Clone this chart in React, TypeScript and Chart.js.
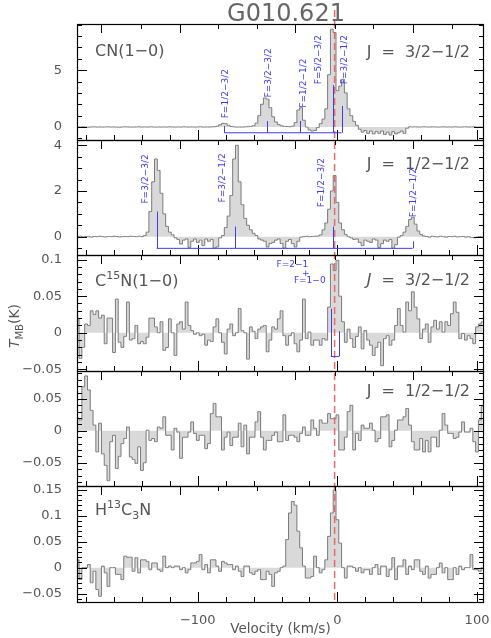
import React, { useEffect, useRef } from 'react';
import { Chart, registerables } from 'chart.js';

Chart.register(...registerables);

// ---------------- data ----------------
const TITLE = 'G010.621';
const V_START = -186; // km/s, first channel centre
const V_STEP = 2; // km/s channel width
const X_MIN = -186.5;
const X_MAX = 105;
const X_TICKS = [-100, 0, 100];
const X_MINOR = [-180, -160, -140, -120, -100, -80, -60, -40, -20, 0, 20, 40, 60, 80, 100];
const TOP_TICK_VEL = [-169.6, -140.4, -112.6, -85.3, -57.9, -30.6, -1.8, 25.8, 54.5, 82.2];
const TOP_TICK_LONG = [1, 0, 1, 0, 0, 1, 0, 0, 1, 0];
const V_SYS = -2;

// CN(1-0) J=3/2-1/2
const CN_32 = [
  0.01, 0.0, 0.02, 0.0, -0.01, 0.01, 0.02, 0.0, 0.01, 0.0,
  0.01, 0.02, 0.0, 0.01, 0.0, -0.01, 0.01, 0.02, 0.01, 0.0,
  0.0, 0.01, 0.02, 0.0, 0.01, 0.0, 0.02, 0.01, 0.0, 0.01,
  0.0, 0.01, 0.0, 0.02, 0.01, 0.0, 0.01, 0.0, 0.02, 0.01,
  0.0, 0.01, 0.0, 0.01, 0.02, 0.0, 0.01, 0.0, 0.02, 0.03,
  0.08, 0.2, 0.32, 0.3, 0.15, 0.05, 0.02, 0.0, 0.01, 0.0,
  0.02, 0.03, 0.06, 0.12, 0.35, 1.0, 2.0, 2.55, 2.45, 1.7,
  0.9, 0.45, 0.22, 0.12, 0.06, 0.05, 0.03, 0.08, 0.4, 1.5,
  1.7, 0.6, 0.0, -0.25, -0.35, -0.3, -0.05, 0.3, 0.7, 1.6,
  4.6, 8.6, 8.3, 3.2, 3.6, 4.2, 3.0, 1.6, 1.0, 0.5,
  0.15, -0.2, -0.45, -0.3, -0.55, -0.35, -0.6, -0.4, -0.55, -0.35,
  -0.65, -0.45, -0.7, -0.4, -0.6, -0.5, -0.35, -0.55, -0.1, 0.02,
  0.01, 0.02, 0.0, 0.01, 0.02, 0.01, 0.0, 0.02, 0.01, 0.0,
  0.01, 0.02, 0.0, 0.01, 0.0, 0.02, 0.01, 0.0, 0.01, 0.02,
  0.0, 0.01, 0.02, 0.0, 0.01, 0.0,
];

// CN(1-0) J=1/2-1/2
const CN_12 = [
  0.0, 0.02, -0.01, 0.01, 0.0, -0.02, 0.01, 0.0, 0.02, 0.0,
  -0.01, 0.01, 0.0, 0.02, 0.01, -0.01, 0.0, 0.01, 0.0, 0.02,
  0.01, 0.0, 0.02, 0.0, 0.05, 0.2, 1.1, 2.4, 3.4, 2.9,
  1.9, 1.0, 0.45, 0.2, 0.08, -0.05, -0.12, -0.32, -0.15, -0.1,
  -0.47, -0.2, -0.1, -0.25, -0.15, -0.39, -0.1, -0.2, -0.12, -0.5,
  -0.45, -0.05, 0.05, 0.4, 0.9, 1.8, 3.4, 4.0, 2.4, 1.4,
  0.8, 0.5, 0.3, 0.15, 0.05, -0.1, -0.15, -0.2, -0.45, -0.3,
  -0.25, -0.15, -0.1, -0.3, -0.5, -0.2, -0.12, -0.3, -0.45, -0.2,
  -0.02, 0.0, 0.02, 0.0, 0.01, 0.02, 0.03, 0.08, 0.3, 0.6,
  1.2, 2.0, 2.68, 1.5, 0.6, 0.3, 0.1, 0.0, -0.05, -0.12,
  -0.1, -0.25, -0.39, -0.15, -0.2, -0.25, -0.1, -0.15, -0.47, -0.3,
  -0.15, -0.2, -0.12, -0.5, -0.35, -0.02, 0.05, 0.2, 0.45, 0.75,
  0.85, 0.55, 0.25, 0.1, 0.03, 0.01, -0.02, 0.02, 0.0, -0.01,
  0.02, 0.0, -0.02, 0.01, 0.0, 0.02, -0.01, 0.0, 0.01, -0.02,
  0.0, -0.03, -0.05, -0.02, 0.01, 0.0,
];

// C15N(1-0) J=3/2-1/2
const C15N_32 = [
  0.02, -0.035, -0.02, 0.012, 0.01, 0.03, 0.025, 0.03, 0.02, 0.024,
  -0.015, 0.02, 0.02, -0.027, 0.046, -0.013, -0.02, -0.005, 0.042, -0.01,
  -0.008, 0.01, -0.015, -0.012, -0.015, -0.006, 0.02, 0.02, 0.008, 0.0,
  0.015, -0.024, -0.02, 0.019, 0.0, -0.031, 0.012, 0.015, 0.005, 0.042,
  0.01, 0.003, -0.002, 0.0, -0.004, -0.002, -0.017, -0.01, -0.012, 0.008,
  0.019, 0.0, -0.013, -0.029, 0.005, 0.012, -0.004, 0.0, 0.033, 0.003,
  0.0, -0.036, 0.008, 0.002, -0.008, 0.005, 0.008, 0.01, -0.026, -0.01,
  0.008, 0.005, 0.019, 0.03, -0.004, -0.017, -0.004, 0.0, -0.015, -0.026,
  -0.01, 0.046, -0.008, 0.001, -0.017, -0.01, -0.01, -0.017, -0.008, -0.01,
  0.035, 0.094, 0.085, 0.099, 0.05, 0.015, -0.013, 0.005, -0.008, -0.02,
  -0.005, 0.008, -0.022, 0.003, -0.01, -0.017, -0.031, -0.02, -0.013, -0.045,
  -0.008, -0.004, -0.017, -0.01, 0.01, 0.033, 0.01, 0.001, 0.042, 0.03,
  0.056, 0.035, 0.019, -0.008, 0.005, 0.012, -0.013, 0.008, 0.017, 0.005,
  0.015, 0.001, 0.015, 0.01, 0.026, 0.042, 0.028, -0.008, -0.001, -0.01,
  -0.004, -0.008, -0.015, 0.008, 0.012, 0.015,
];

// C15N(1-0) J=1/2-1/2
const C15N_12 = [
  0.02, 0.017, 0.069, 0.086, 0.064, 0.032, 0.009, -0.033, 0.012, -0.036,
  -0.054, -0.078, -0.017, -0.007, -0.059, -0.04, -0.02, -0.012, 0.006, -0.041,
  -0.045, -0.051, -0.025, -0.062, -0.05, 0.001, -0.015, -0.012, -0.017, 0.006,
  0.004, 0.022, -0.007, -0.007, -0.03, 0.004, -0.002, -0.043, -0.01, -0.01,
  -0.002, 0.014, -0.004, -0.015, -0.007, -0.007, -0.028, -0.02, 0.027, 0.043,
  0.022, 0.022, -0.03, -0.01, -0.002, -0.023, -0.01, -0.01, 0.012, -0.025,
  0.009, -0.036, -0.01, -0.01, 0.014, 0.03, -0.01, -0.03, -0.015, -0.015,
  -0.007, -0.002, -0.017, -0.017, 0.025, -0.015, -0.007, -0.007, -0.01, -0.017,
  -0.004, 0.006, -0.007, -0.007, 0.017, 0.004, -0.007, 0.017, 0.012, 0.012,
  0.027, 0.019, 0.019, 0.025, -0.03, -0.03, -0.01, 0.03, 0.04, -0.03,
  -0.004, -0.015, 0.009, 0.004, 0.004, 0.012, 0.001, -0.017, -0.012, 0.022,
  0.022, 0.025, -0.025, -0.015, 0.001, 0.017, 0.017, 0.022, 0.035, 0.009,
  -0.017, -0.03, -0.03, -0.012, -0.033, -0.015, -0.033, -0.01, -0.01, -0.025,
  0.001, 0.027, 0.009, -0.004, -0.004, -0.012, -0.01, -0.002, 0.014, -0.002,
  -0.002, 0.004, -0.017, -0.033, 0.017, 0.038,
];

// H13C3N
const H13C3N = [
  0.015, -0.023, 0.0, 0.0, 0.006, -0.029, -0.007, -0.042, -0.055, 0.003,
  -0.01, -0.036, 0.0, 0.0, -0.013, -0.013, -0.023, 0.022, 0.02, 0.02,
  -0.007, 0.019, -0.01, 0.015, 0.015, 0.012, -0.004, 0.009, 0.009, -0.004,
  -0.007, 0.022, 0.0, 0.003, 0.0, 0.003, 0.003, -0.004, 0.0, -0.01,
  -0.004, 0.009, 0.009, 0.012, 0.025, -0.004, 0.006, -0.01, 0.015, 0.015,
  0.003, -0.007, 0.012, 0.009, 0.006, 0.006, -0.004, 0.003, -0.007, -0.017,
  0.003, 0.003, -0.01, -0.013, -0.007, -0.004, -0.023, -0.023, -0.007, -0.013,
  -0.036, -0.01, -0.007, 0.0, 0.003, 0.054, 0.105, 0.127, 0.12, 0.07,
  0.038, 0.003, -0.02, -0.02, -0.017, 0.022, 0.0, -0.01, -0.004, 0.015,
  0.06, 0.105, 0.149, 0.092, 0.047, 0.0, -0.02, 0.003, 0.003, 0.0,
  -0.007, 0.0, -0.01, -0.004, -0.004, -0.013, 0.0, 0.006, -0.013, 0.003,
  0.003, -0.017, -0.004, 0.019, -0.023, 0.003, 0.003, 0.015, -0.013, 0.003,
  -0.004, 0.015, 0.015, -0.007, -0.013, 0.003, -0.02, -0.013, -0.013, 0.0,
  0.009, -0.01, 0.0, -0.023, -0.023, 0.0, -0.013, 0.003, -0.004, 0.0,
  0.0, 0.025, -0.004, -0.004, -0.007, 0.0,
];

// y tick labels per panel
const Y1_TICKS = [0, 5];
const Y2_TICKS = [0, 2, 4];
const Y3_TICKS = [-0.05, 0, 0.05, 0.1];
const Y4_TICKS = [-0.05, 0, 0.05];
const Y5_TICKS = [-0.05, 0, 0.05, 0.1, 0.15];

// hyperfine markers
const CN32_HF_VEL = [-80.9, -50.2, -26.5, -3.0, 3.0];
const CN32_HF_TOP = [0.09, 0.53, 0.53, 3.68, 1.85];
const CN32_HF_LABELS = ['F=1/2−3/2', 'F=3/2−3/2', 'F=1/2−1/2', 'F=5/2−3/2', 'F=3/2−1/2'];
const CN32_HF_LABEL_VEL = [-79.7, -49.3, -24.0, -13.3, 5.4];
const CN32_HF_LABEL_Y = [0.77, 2.6, 1.7, 3.77, 3.77];
const CN32_HF_BASE = -0.5;

const CN12_HF_VEL = [-129.4, -73.0, -3.0, 53.8];
const CN12_HF_TOP = [1.1, 0.44, 0.44, -0.2];
const CN12_HF_LABELS = ['F=3/2−3/2', 'F=3/2−1/2', 'F=1/2−3/2', 'F=1/2−1/2'];
const CN12_HF_LABEL_VEL = [-137.4, -82.4, -11.4, 54.5];
const CN12_HF_LABEL_Y = [1.45, 1.5, 1.29, 0.85];
const CN12_HF_BASE = -0.51;

const C15N_HF_VEL = [-4.7, 1.1];
const C15N_HF_TOP = [0.0328, 0.002];
const C15N_HF_BASE = -0.0324;
const C15N_HF_TEXT = ['F=2−1', '+', 'F=1−0'];
const C15N_HF_TEXT_VEL = [-32.2, -22.7, -19.8];
const C15N_HF_TEXT_Y = [0.0935, 0.081, 0.0715];

// ---------------- styling / layout ----------------
const FONT = '"DejaVu Sans", "Liberation Sans", sans-serif';
const TEXT_GREY = '#555';
const BLUE = '#3c3cff';

type Part = { t: string; sup?: boolean; sub?: boolean; italic?: boolean };

const PANELS = [
  { id: 'y1', values: CN_32, min: -1.1, max: 9.05, ticks: Y1_TICKS, minor: 1,
    left: [{ t: 'CN(1−0)' }] as Part[], leftDy: 32,
    right: [{ t: 'J  =  3/2−1/2' }] as Part[], rightDy: 33 },
  { id: 'y2', values: CN_12, min: -0.81, max: 4.25, ticks: Y2_TICKS, minor: 0.5,
    left: [] as Part[], leftDy: 0,
    right: [{ t: 'J  =  1/2−1/2' }] as Part[], rightDy: 29 },
  { id: 'y3', values: C15N_32, min: -0.052, max: 0.106, ticks: Y3_TICKS, minor: 0.01,
    left: [{ t: 'C' }, { t: '15', sup: true }, { t: 'N(1−0)' }] as Part[], leftDy: 31,
    right: [{ t: 'J', italic: true }, { t: '  =  3/2−1/2' }] as Part[], rightDy: 30 },
  { id: 'y4', values: C15N_12, min: -0.087, max: 0.094, ticks: Y4_TICKS, minor: 0.01,
    left: [] as Part[], leftDy: 0,
    right: [{ t: 'J  =  1/2−1/2' }] as Part[], rightDy: 25 },
  { id: 'y5', values: H13C3N, min: -0.066, max: 0.156, ticks: Y5_TICKS, minor: 0.01,
    left: [{ t: 'H' }, { t: '13', sup: true }, { t: 'C' }, { t: '3', sub: true }, { t: 'N' }] as Part[], leftDy: 29,
    right: [] as Part[], rightDy: 0 },
];

const fmt = (v: number) => {
  const s = String(parseFloat(Number(v).toFixed(3)));
  return s.replace('-', '−');
};

function partFont(p: Part, size: number) {
  const sz = p.sup || p.sub ? Math.round(size * 0.68) : size;
  return `${p.italic ? 'italic ' : ''}${sz}px ${FONT}`;
}

function drawRich(ctx: CanvasRenderingContext2D, parts: Part[], x: number, y: number, align: 'left' | 'right', size: number) {
  let w = 0;
  parts.forEach((p) => { ctx.font = partFont(p, size); w += ctx.measureText(p.t).width; });
  let cx = align === 'right' ? x - w : x;
  ctx.textAlign = 'left';
  ctx.textBaseline = 'alphabetic';
  parts.forEach((p) => {
    ctx.font = partFont(p, size);
    const dy = p.sup ? -size * 0.45 : p.sub ? size * 0.28 : 0;
    ctx.fillText(p.t, cx, y + dy);
    cx += ctx.measureText(p.t).width;
  });
}

const decorPlugin = {
  id: 'decor',
  afterDatasetsDraw(chart: any) {
    const ctx: CanvasRenderingContext2D = chart.ctx;
    const xs = chart.scales.x;
    const L = chart.chartArea.left;
    const R = chart.chartArea.right;
    ctx.save();

    // red systemic velocity line
    const xr = xs.getPixelForValue(V_SYS);
    ctx.strokeStyle = 'rgba(232,100,100,0.95)';
    ctx.lineWidth = 1.5;
    ctx.setLineDash([7, 4]);
    ctx.beginPath();
    ctx.moveTo(xr, chart.chartArea.top - 14);
    ctx.lineTo(xr, chart.chartArea.bottom);
    ctx.stroke();
    ctx.setLineDash([]);

    PANELS.forEach((p) => {
      const ys = chart.scales[p.id];
      const T = Math.round(ys.top);
      const B = Math.round(ys.bottom);
      ctx.strokeStyle = '#000';
      ctx.lineWidth = 1;
      ctx.beginPath();
      const n0 = Math.ceil(p.min / p.minor - 1e-6);
      const n1 = Math.floor(p.max / p.minor + 1e-6);
      for (let k = n0; k <= n1; k++) {
        const v = k * p.minor;
        const y = Math.round(ys.getPixelForValue(v)) + 0.5;
        const major = p.ticks.some((t) => Math.abs(t - v) < p.minor * 1e-3);
        const len = major ? 10 : 5;
        ctx.moveTo(L, y); ctx.lineTo(L + len, y);
        ctx.moveTo(R, y); ctx.lineTo(R - len, y);
      }
      X_MINOR.forEach((v) => {
        const x = Math.round(xs.getPixelForValue(v)) + 0.5;
        const len = X_TICKS.includes(v) ? 10 : 5;
        ctx.moveTo(x, B); ctx.lineTo(x, B - len);
      });
      TOP_TICK_VEL.forEach((v, j) => {
        const x = Math.round(xs.getPixelForValue(v)) + 0.5;
        const len = TOP_TICK_LONG[j] ? 9 : 5;
        ctx.moveTo(x, T); ctx.lineTo(x, T + len);
      });
      ctx.stroke();
      ctx.lineWidth = 1.2;
      ctx.strokeRect(L + 0.5, T + 0.5, R - L - 1, B - T);

      // panel texts
      ctx.fillStyle = TEXT_GREY;
      if (p.left.length) drawRich(ctx, p.left, 95, T + p.leftDy, 'left', 16);
      if (p.right.length) drawRich(ctx, p.right, 470, T + p.rightDy, 'right', 16);
    });

    // hyperfine markers
    const drawHF = (yid: string, vel: number[], top: number[], base: number) => {
      const ys = chart.scales[yid];
      const yb = ys.getPixelForValue(base);
      ctx.strokeStyle = BLUE;
      ctx.lineWidth = 1;
      ctx.beginPath();
      ctx.moveTo(xs.getPixelForValue(vel[0]), yb);
      ctx.lineTo(xs.getPixelForValue(vel[vel.length - 1]), yb);
      vel.forEach((v, i) => {
        const x = Math.round(xs.getPixelForValue(v)) + 0.5;
        ctx.moveTo(x, yb);
        ctx.lineTo(x, ys.getPixelForValue(top[i]));
      });
      ctx.stroke();
    };
    const drawHFLabels = (yid: string, labels: string[], lv: number[], ly: number[]) => {
      const ys = chart.scales[yid];
      ctx.fillStyle = BLUE;
      ctx.font = `9px ${FONT}`;
      labels.forEach((s, i) => {
        ctx.save();
        ctx.translate(xs.getPixelForValue(lv[i]), ys.getPixelForValue(ly[i]));
        ctx.rotate(-Math.PI / 2);
        ctx.textAlign = 'left';
        ctx.textBaseline = 'middle';
        ctx.fillText(s, 0, 0);
        ctx.restore();
      });
    };
    drawHF('y1', CN32_HF_VEL, CN32_HF_TOP, CN32_HF_BASE);
    drawHFLabels('y1', CN32_HF_LABELS, CN32_HF_LABEL_VEL, CN32_HF_LABEL_Y);
    drawHF('y2', CN12_HF_VEL, CN12_HF_TOP, CN12_HF_BASE);
    drawHFLabels('y2', CN12_HF_LABELS, CN12_HF_LABEL_VEL, CN12_HF_LABEL_Y);
    drawHF('y3', C15N_HF_VEL, C15N_HF_TOP, C15N_HF_BASE);
    {
      const ys = chart.scales.y3;
      ctx.fillStyle = BLUE;
      ctx.font = `9px ${FONT}`;
      ctx.textAlign = 'center';
      ctx.textBaseline = 'middle';
      C15N_HF_TEXT.forEach((s, i) => {
        ctx.fillText(s, xs.getPixelForValue(C15N_HF_TEXT_VEL[i]), ys.getPixelForValue(C15N_HF_TEXT_Y[i]));
      });
    }

    // title
    ctx.fillStyle = '#666';
    ctx.font = `24px ${FONT}`;
    ctx.textAlign = 'center';
    ctx.textBaseline = 'alphabetic';
    ctx.fillText(TITLE, 286, 21);

    // y axis title
    ctx.save();
    ctx.translate(19, 326);
    ctx.rotate(-Math.PI / 2);
    const parts: Part[] = [{ t: 'T', italic: true }, { t: 'MB', sub: true }, { t: '(K)' }];
    let w = 0;
    parts.forEach((pp) => { ctx.font = partFont(pp, 14); w += ctx.measureText(pp.t).width; });
    ctx.fillStyle = TEXT_GREY;
    drawRich(ctx, parts, -w / 2, 0, 'left', 14);
    ctx.restore();

    ctx.restore();
  },
};

export default function App() {
  const ref = useRef<HTMLCanvasElement | null>(null);
  useEffect(() => {
    if (!ref.current) return;
    const scales: any = {
      x: {
        type: 'linear',
        position: 'bottom',
        min: X_MIN,
        max: X_MAX,
        afterBuildTicks: (s: any) => { s.ticks = X_TICKS.map((v) => ({ value: v })); },
        afterFit: (s: any) => { s.height = 36; s.paddingLeft = 0; s.paddingRight = 0; },
        grid: { display: false },
        border: { display: false },
        ticks: {
          autoSkip: false, maxRotation: 0, padding: 3,
          color: TEXT_GREY, font: { family: FONT, size: 13 },
          callback: (v: any) => fmt(Number(v)),
        },
        title: {
          display: true, text: 'Velocity (km/s)', color: TEXT_GREY,
          font: { family: FONT, size: 13.5 }, padding: { top: 0, bottom: 0 },
        },
      },
    };
    PANELS.forEach((p, i) => {
      scales[p.id] = {
        type: 'linear',
        position: 'left',
        stack: 'spectra',
        stackWeight: 1,
        weight: PANELS.length - i,
        min: p.min,
        max: p.max,
        afterBuildTicks: (s: any) => { s.ticks = p.ticks.map((v) => ({ value: v })); },
        afterFit: (s: any) => { s.width = 77; s.paddingTop = 0; s.paddingBottom = 0; },
        grid: { display: false },
        border: { display: false },
        ticks: {
          autoSkip: false, padding: 7,
          color: TEXT_GREY, font: { family: FONT, size: 13 },
          callback: (v: any) => fmt(Number(v)),
        },
      };
    });
    const chart = new Chart(ref.current, {
      type: 'line',
      data: {
        datasets: PANELS.map((p) => ({
          data: p.values.map((y, i) => ({ x: V_START + i * V_STEP, y })),
          xAxisID: 'x',
          yAxisID: p.id,
          stepped: 'middle',
          borderColor: '#7a7a7a',
          borderWidth: 1,
          backgroundColor: '#d9d9d9',
          fill: 'origin',
          pointRadius: 0,
          tension: 0,
        })),
      } as any,
      options: {
        responsive: false,
        animation: false,
        devicePixelRatio: 1,
        events: [],
        layout: { padding: { top: 24, right: 7, left: 0, bottom: 0 } },
        plugins: { legend: { display: false }, tooltip: { enabled: false }, title: { display: false } },
        scales,
      } as any,
      plugins: [decorPlugin],
    });
    return () => chart.destroy();
  }, []);
  return (
    <div style={{ position: 'absolute', left: 0, top: 0, width: 491, height: 638, background: '#fff' }}>
      <canvas ref={ref} width={491} height={638} style={{ display: 'block' }} />
    </div>
  );
}
